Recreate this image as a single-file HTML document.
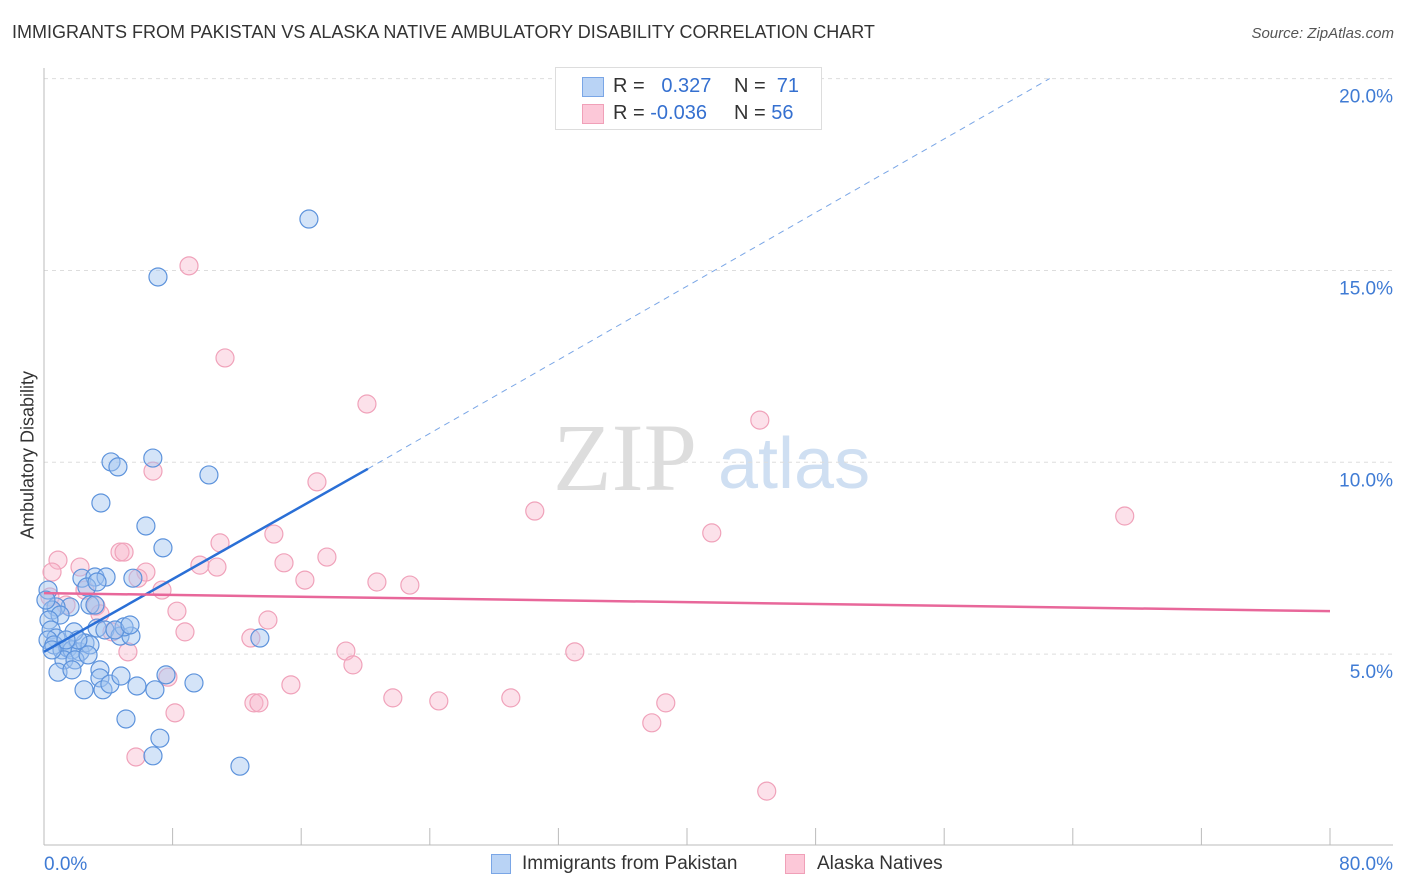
<!DOCTYPE html>
<html><head><meta charset="utf-8"><style>
body{margin:0;background:#fff;font-family:"Liberation Sans",sans-serif;}
#wrap{position:relative;width:1406px;height:892px;overflow:hidden;}
.t{position:absolute;white-space:nowrap;}
</style></head><body>
<div id="wrap">
<div class="t" style="left:12px;top:22px;font-size:18px;color:#333;">IMMIGRANTS FROM PAKISTAN VS ALASKA NATIVE AMBULATORY DISABILITY CORRELATION CHART</div>
<div class="t" style="right:12px;top:25px;font-size:15px;color:#555;font-style:italic;">Source: ZipAtlas.com</div>
<div class="t" style="left:18px;top:455px;font-size:18px;color:#333;transform:translate(-50%,-50%) rotate(-90deg);transform-origin:center;margin-left:10px;">Ambulatory Disability</div>
<svg id="plot" width="1406" height="892" style="position:absolute;left:0;top:0"></svg>
<div style="position:absolute;left:555px;top:67px;width:267px;height:63px;border:1px solid #ddd;background:#fff;box-sizing:border-box;">
 <div style="position:absolute;left:26px;top:9px;width:20px;height:18px;background:#b9d3f5;border:1px solid #7aa6e6;"></div>
 <div style="position:absolute;left:26px;top:36px;width:20px;height:18px;background:#fcc8d8;border:1px solid #f0a0b8;"></div>
 <div class="t" style="left:57px;top:7px;font-size:20px;color:#333">R = &nbsp;&nbsp;<span style="color:#3570d0">0.327</span></div>
 <div class="t" style="left:178px;top:7px;font-size:20px;color:#333">N = &nbsp;<span style="color:#3570d0">71</span></div>
 <div class="t" style="left:57px;top:34px;font-size:20px;color:#333">R = <span style="color:#3570d0">-0.036</span></div>
 <div class="t" style="left:178px;top:34px;font-size:20px;color:#333">N = <span style="color:#3570d0">56</span></div>
</div>
<div style="position:absolute;left:491px;top:854px;width:20px;height:20px;background:#b9d3f5;border:1px solid #7aa6e6;box-sizing:border-box"></div>
<div class="t" style="left:522px;top:853px;font-size:19px;color:#333">Immigrants from Pakistan</div>
<div style="position:absolute;left:785px;top:854px;width:20px;height:20px;background:#fcc8d8;border:1px solid #f0a0b8;box-sizing:border-box"></div>
<div class="t" style="left:817px;top:853px;font-size:19px;color:#333">Alaska Natives</div>
</div>
<script>
const blueX=[16.48,7.09,4.17,4.60,6.77,10.26,3.54,6.34,7.40,13.43,2.36,3.17,3.86,5.53,2.67,3.30,2.86,1.62,3.17,0.75,0.50,1.00,0.31,0.44,0.75,0.25,0.62,1.12,1.49,1.74,2.24,2.55,2.86,3.30,3.79,4.73,5.41,4.98,1.24,1.93,0.87,1.74,3.48,3.48,3.67,4.10,4.79,2.49,5.78,6.90,7.59,9.33,5.10,7.21,6.78,12.19,1.87,2.11,1.37,2.74,0.50,4.42,5.35,0.25,0.12];
const blueY=[16.34,14.83,10.01,9.88,10.11,9.67,8.94,8.34,7.77,5.42,6.98,7.01,7.01,6.98,6.75,6.88,6.28,6.23,6.28,6.23,6.15,6.02,5.89,5.63,5.42,5.37,5.24,5.11,5.16,5.11,5.06,5.29,5.24,5.68,5.63,5.47,5.47,5.71,4.85,4.85,4.53,4.59,4.59,4.38,4.07,4.22,4.43,4.07,4.17,4.07,4.46,4.25,3.31,2.81,2.35,2.08,5.58,5.37,5.37,4.98,5.11,5.63,5.76,6.67,6.41];
const pinkX=[9.02,11.26,20.09,44.53,6.78,16.98,30.53,67.23,41.54,14.30,10.95,4.73,4.98,0.87,6.34,9.70,10.76,14.93,17.60,16.23,20.71,22.76,5.85,7.34,2.55,3.23,8.27,13.93,8.77,12.87,18.78,19.22,33.02,5.22,7.71,15.36,21.70,24.56,29.04,38.68,37.81,8.15,13.06,13.37,5.72,44.96,0.37,1.37,0.50,3.48,4.23,2.24];
const pinkY=[15.12,12.72,11.52,11.10,9.77,9.49,8.73,8.60,8.16,8.13,7.90,7.66,7.66,7.45,7.14,7.32,7.27,7.38,7.53,6.93,6.88,6.80,6.98,6.67,6.67,6.25,6.12,5.89,5.58,5.42,5.08,4.72,5.06,5.06,4.40,4.20,3.86,3.78,3.86,3.73,3.21,3.47,3.73,3.73,2.32,1.43,6.49,6.28,7.14,6.05,5.58,7.27];
const yTicks=[5,10,15,20];
const yTickLabels=["5.0%","10.0%","15.0%","20.0%"];
const xTicks=[0,8,16,24,32,40,48,56,64,72,80];
const blueTrend=[[0,5.06],[20.15,9.83],[62.56,20.0]];
const pinkTrend=[[0,6.59],[80,6.12]];
const X0=44,X1=1330,Y0=846,YS=38.37;
const sx=v=>X0+v*(X1-X0)/80, sy=v=>Y0-v*YS;
const svg=document.getElementById('plot');
const NS='http://www.w3.org/2000/svg';
function mk(tag,attrs){const e=document.createElementNS(NS,tag);for(const k in attrs)e.setAttribute(k,attrs[k]);svg.appendChild(e);return e;}
// watermark
let w=mk('text',{x:553,y:490,'font-size':96,'font-family':'Liberation Serif, serif',fill:'#ddd'});w.textContent='ZIP';


let w2=mk('text',{x:718,y:488,'font-size':72,'font-family':'Liberation Sans, sans-serif',fill:'#cfdff2'});w2.textContent='atlas';


yTicks.forEach((v,i)=>{
 let g=mk('line',{x1:X0,x2:1393,y1:sy(v),y2:sy(v),stroke:'#ddd','stroke-dasharray':'4,4'});
 
 
 let t=mk('text',{x:1393,y:sy(v)+24,'text-anchor':'end','font-size':19,fill:'#3f7bd4','font-family':'Liberation Sans, sans-serif'});
 t.textContent=yTickLabels[i];
 
 
});
let ax=mk('line',{x1:X0,x2:1393,y1:845,y2:845,stroke:'#bbb'});


let ay=mk('line',{x1:X0,x2:X0,y1:68,y2:845,stroke:'#bbb'});


xTicks.forEach(v=>{let l=mk('line',{x1:sx(v),x2:sx(v),y1:828,y2:845,stroke:'#bbb'});
 
 });
let xl0=mk('text',{x:44,y:870,'font-size':19,fill:'#3f7bd4','font-family':'Liberation Sans, sans-serif'});xl0.textContent='0.0%';


let xl1=mk('text',{x:1393,y:870,'text-anchor':'end','font-size':19,fill:'#3f7bd4','font-family':'Liberation Sans, sans-serif'});xl1.textContent='80.0%';


pinkX.forEach((v,i)=>{let c=mk('circle',{cx:sx(v),cy:sy(pinkY[i]),r:9,fill:'rgba(248,180,202,0.4)',stroke:'#f0a2ba','stroke-width':1.2});
 
 });
blueX.forEach((v,i)=>{let c=mk('circle',{cx:sx(v),cy:sy(blueY[i]),r:9,fill:'rgba(160,195,240,0.45)',stroke:'#5d93dc','stroke-width':1.2});
 
 });
let bl=mk('line',{x1:sx(blueTrend[0][0]),y1:sy(blueTrend[0][1]),x2:sx(blueTrend[1][0]),y2:sy(blueTrend[1][1]),stroke:'#2a6fd6','stroke-width':2.5});


let bd=mk('line',{x1:sx(blueTrend[1][0]),y1:sy(blueTrend[1][1]),x2:sx(blueTrend[2][0]),y2:sy(blueTrend[2][1]),stroke:'#7aa6e6','stroke-width':1,'stroke-dasharray':'6,5'});


let pl=mk('line',{x1:sx(pinkTrend[0][0]),y1:sy(pinkTrend[0][1]),x2:sx(pinkTrend[1][0]),y2:sy(pinkTrend[1][1]),stroke:'#e8679a','stroke-width':2.5});


</script>
</body></html>
